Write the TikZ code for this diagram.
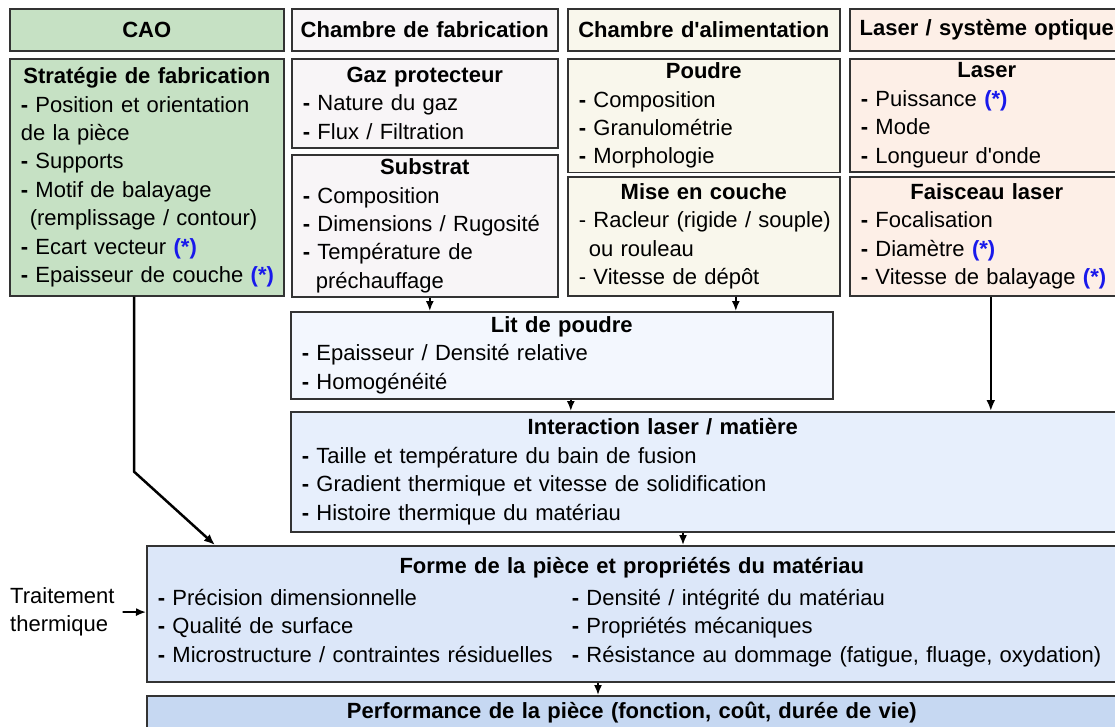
\documentclass[tikz,border=0pt]{standalone}
\usepackage{fontspec}
\setmainfont{Liberation Sans}
\usetikzlibrary{shapes, arrows, arrows.meta}
\definecolor{vertcao}{RGB}{198,225,196}
\definecolor{grisfab}{RGB}{248,245,247}
\definecolor{cremeali}{RGB}{249,247,236}
\definecolor{peche}{RGB}{253,239,231}
\definecolor{bleulit}{RGB}{243,247,254}
\definecolor{bleuint}{RGB}{231,239,252}
\definecolor{bleuforme}{RGB}{220,231,249}
\definecolor{bleuperf}{RGB}{198,216,242}
\definecolor{etoile}{RGB}{25,25,235}
\newcommand{\puce}[1]{\mbox{\textbf{-}\ #1}}
\newcommand{\etoile}{\textcolor{etoile}{\textbf{(*)}}}
\newcommand{\titre}[1]{\centerline{\bfseries #1}}
\tikzstyle{bloc}   = [rectangle, draw=black!80, line width=1.6pt, anchor=north west, inner xsep=11pt, inner ysep=4pt, align=left, font=\fontsize{22}{28.4}\selectfont]
\tikzstyle{entete} = [bloc, inner xsep=5pt, align=center, minimum height=42pt, font=\fontsize{22}{28.4}\selectfont\bfseries]
\tikzstyle{fleche}       = [draw, line width=1.7pt, -{Latex[length=10pt, width=8pt]}]
\tikzstyle{grossefleche} = [draw, line width=2.5pt, -{Latex[length=11pt, width=9pt]}]

\begin{document}
\begin{tikzpicture}[x=1pt, y=1pt]
    \useasboundingbox (0,0) rectangle (1115,-726);
    \clip (0,0) rectangle (1115,-726);
    % en-tetes
    \node[entete, fill=vertcao, text width=264pt](cao) at (9,-8) {CAO};
    \node[entete, fill=grisfab, text width=256pt](chfab) at (291,-8) {Chambre de fabrication};
    \node[entete, fill=cremeali, text width=262pt](chali) at (567,-8) {Chambre d\textquotesingle alimentation};
    \node[entete, fill=peche, text width=264pt](laseropt) at (849,-8) {Laser / système optique};
    % parametres
    \node[bloc, fill=vertcao, text width=252pt, minimum height=237pt](strat) at (9,-58) {\titre{Stratégie de fabrication}
        \puce{Position et orientation}\\
        de la pièce\\
        \puce{Supports}\\
        \puce{Motif de balayage}\\
        \hspace*{9pt}(remplissage / contour)\\
        \puce{Ecart vecteur \etoile}\\
        \puce{Epaisseur de couche \etoile}};
    \node[bloc, fill=grisfab, text width=244pt, minimum height=89pt](gaz) at (291,-58) {\titre{Gaz protecteur}
        \puce{Nature du gaz}\\
        \puce{Flux / Filtration}};
    \node[bloc, fill=grisfab, text width=244pt, minimum height=141pt](substrat) at (291,-154) {\titre{Substrat}
        \puce{Composition}\\
        \puce{Dimensions / Rugosité}\\
        \puce{Température de}\\
        \hspace*{13pt}préchauffage};
    \node[bloc, fill=cremeali, text width=250pt, minimum height=109pt](poudre) at (567,-58) {\titre{Poudre}
        \puce{Composition}\\
        \puce{Granulométrie}\\
        \puce{Morphologie}};
    \node[bloc, fill=cremeali, text width=250pt, minimum height=119pt](mise) at (567,-176) {\titre{Mise en couche}
        \mbox{- Racleur (rigide / souple)}\\
        \hspace*{10pt}ou rouleau\\
        \mbox{- Vitesse de dépôt}};
    \node[bloc, fill=peche, text width=252pt, minimum height=109pt](laser) at (849,-58) {\titre{Laser}
        \puce{Puissance \etoile}\\
        \puce{Mode}\\
        \puce{Longueur d\textquotesingle onde}};
    \node[bloc, fill=peche, text width=252pt, minimum height=119pt](faisceau) at (849,-176) {\titre{Faisceau laser}
        \puce{Focalisation}\\
        \puce{Diamètre \etoile}\\
        \puce{Vitesse de balayage \etoile}};
    % resultats
    \node[bloc, fill=bleulit, text width=520pt, minimum height=87pt](lit) at (290,-311) {\titre{Lit de poudre}
        \puce{Epaisseur / Densité relative}\\
        \puce{Homogénéité}};
    \node[bloc, fill=bleuint, text width=850pt, minimum height=120pt](inter) at (290,-411) {\makebox[722pt]{\bfseries Interaction laser / matière}\\
        \puce{Taille et température du bain de fusion}\\
        \puce{Gradient thermique et vitesse de solidification}\\
        \puce{Histoire thermique du matériau}};
    \node[bloc, fill=bleuforme, text width=962pt, minimum height=136pt](forme) at (146,-545) {\makebox[948pt]{\bfseries Forme de la pièce et propriétés du matériau}\\[4pt]
        \begin{tabular}[t]{@{}p{414pt}@{}l@{}}
        \puce{Précision dimensionnelle} & \puce{Densité / intégrité du matériau}\\
        \puce{Qualité de surface} & \puce{Propriétés mécaniques}\\
        \puce{Microstructure / contraintes résiduelles} & \puce{Résistance au dommage (fatigue, fluage, oxydation)}
        \end{tabular}};
    \node[bloc, fill=bleuperf, text width=962pt, minimum height=34pt](perf) at (146,-695) {\makebox[948pt]{\bfseries Performance de la pièce (fonction, coût, durée de vie)}};
    \node[anchor=west, align=left, inner sep=2pt, font=\fontsize{22}{28.4}\selectfont](tt) at (8,-612) {Traitement\\thermique};
    % liaisons
    \coordinate (s1) at ([xshift=5pt]substrat.south);
    \coordinate (m1) at ([xshift=32pt]mise.south);
    \coordinate (l1) at ([xshift=9pt]lit.south);
    \coordinate (f1) at ([xshift=4pt]faisceau.south);
    \coordinate (i1) at ([xshift=393pt]inter.south west);
    \coordinate (fo1) at ([xshift=452pt]forme.south west);
    \coordinate (c1) at ([xshift=125pt]strat.south west);
    \path[fleche](s1) -- (s1 |- lit.north);
    \path[fleche](m1) -- (m1 |- lit.north);
    \path[fleche](l1) -- (l1 |- inter.north);
    \path[grossefleche](f1) -- (f1 |- inter.north);
    \path[fleche](i1) -- (i1 |- forme.north);
    \path[fleche](fo1) -- (fo1 |- perf.north);
    \path[grossefleche](c1) -- ++(0,-175) -- ([xshift=69pt]forme.north west);
    \path[fleche]([xshift=6pt]tt.east) -- (forme);
\end{tikzpicture}
\end{document}
